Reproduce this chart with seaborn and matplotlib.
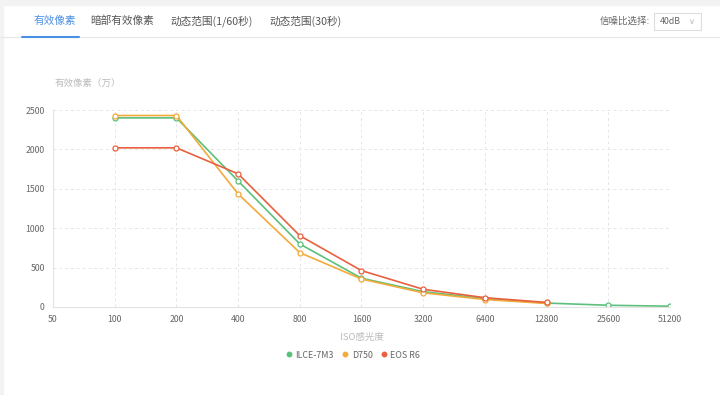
import matplotlib
matplotlib.use("Agg")
import matplotlib.pyplot as plt
import seaborn as sns
import pandas as pd
from matplotlib.patches import Rectangle
from matplotlib.lines import Line2D

iso_labels = ["50", "100", "200", "400", "800", "1600", "3200", "6400", "12800", "25600", "51200"]
ilce_iso = ["100", "200", "400", "800", "1600", "3200", "6400", "12800", "25600", "51200"]
ilce_vals = [2400, 2400, 1600, 800, 365, 195, 105, 50, 22, 10]
d750_iso = ["100", "200", "400", "800", "1600", "3200", "6400", "12800"]
d750_vals = [2430, 2430, 1435, 690, 355, 180, 95, 45]
eos_iso = ["100", "200", "400", "800", "1600", "3200", "6400", "12800"]
eos_vals = [2020, 2020, 1690, 905, 462, 225, 118, 58]
series_names = ["ILCE-7M3", "D750", "EOS R6"]
colors = ["#5cc07a", "#f2aa3a", "#e8603f"]
tabs = ["有效像素", "暗部有效像素", "动态范围(1/60秒)", "动态范围(30秒)"]

sns.set_theme(style="white")
plt.rcParams['font.family'] = ['Noto Sans CJK SC', 'DejaVu Sans']

rows = []
for name, isos, vals in [(series_names[0], ilce_iso, ilce_vals),
                         (series_names[1], d750_iso, d750_vals),
                         (series_names[2], eos_iso, eos_vals)]:
    for i, v in zip(isos, vals):
        rows.append({"pos": iso_labels.index(i), "val": v, "cam": name})
df = pd.DataFrame(rows)

fig = plt.figure(figsize=(7.2, 3.95), dpi=100)
fig.patch.set_facecolor("white")

# page chrome
fig.add_artist(Rectangle((0, 1 - 5/395), 1, 5/395, transform=fig.transFigure, color="#f3f3f3", zorder=0))
fig.add_artist(Rectangle((0, 0), 3/720, 1, transform=fig.transFigure, color="#f3f3f3", zorder=0))
fig.add_artist(Line2D([0, 1], [1 - 37/395, 1 - 37/395], transform=fig.transFigure, color="#e8e8e8", lw=0.8))
fig.add_artist(Line2D([22/720, 79/720], [1 - 36.5/395, 1 - 36.5/395], transform=fig.transFigure, color="#4a8fe2", lw=1.5))
tab_x = [55, 122, 212, 306]
for i, (t, x) in enumerate(zip(tabs, tab_x)):
    fig.text(x/720, 1 - 21/395, t, ha="center", va="center", fontsize=7.7,
             color="#4a8fe2" if i == 0 else "#555555")
fig.text(650/720, 1 - 21/395, "信噪比选择:", ha="right", va="center", fontsize=6.8, color="#666666")
fig.add_artist(Rectangle((654/720, 1 - 30/395), 47/720, 17/395, transform=fig.transFigure,
                         facecolor="white", edgecolor="#dddddd", lw=0.8))
fig.text(660/720, 1 - 21.5/395, "40dB", ha="left", va="center", fontsize=6.3, color="#666666")
fig.text(692/720, 1 - 21.5/395, "∨", ha="center", va="center", fontsize=6, color="#bbbbbb",
         family=['DejaVu Sans'])

ax = fig.add_axes([53/720, 1 - 307/395, 617/720, 197/395])
sns.lineplot(data=df, x="pos", y="val", hue="cam", hue_order=series_names, palette=colors,
             marker="o", markersize=3.6, markerfacecolor="white", markeredgewidth=0.9,
             linewidth=1.2, legend=False, ax=ax)
for line, c in zip(ax.get_lines(), colors):
    line.set_markeredgecolor(c)

ax.set_xlim(0, len(iso_labels) - 1)
ax.set_ylim(0, 2500)
ax.set_xticks(range(len(iso_labels)))
ax.set_xticklabels(iso_labels)
ax.set_yticks([0, 500, 1000, 1500, 2000, 2500])
ax.tick_params(axis="both", labelsize=6.3, colors="#666666", length=0, pad=6)
ax.grid(True, color="#e6e6e6", linestyle=(0, (3, 3)), linewidth=0.7)
for s in ["top", "right"]:
    ax.spines[s].set_visible(False)
for s in ["left", "bottom"]:
    ax.spines[s].set_color("#e3e3e3")
    ax.spines[s].set_linewidth(0.8)
ax.set_xlabel("")
ax.set_ylabel("")
ax.set_facecolor("white")

fig.text(55/720, 1 - 83/395, "有效像素（万）", ha="left", va="center", fontsize=6.8, color="#bbbbbb")
fig.text(362/720, 1 - 337/395, "ISO感光度", ha="center", va="center", fontsize=6.8, color="#bbbbbb")

handles = [Line2D([], [], marker="o", linestyle="", color=c, markersize=3.2) for c in colors]
fig.legend(handles, series_names, loc="center", bbox_to_anchor=(352/720, 1 - 355/395),
           ncol=3, frameon=False, fontsize=6.4, handletextpad=0.1, columnspacing=0.7,
           handlelength=1.2, labelcolor="#666666")

fig.savefig("out.png", dpi=100, facecolor="white")
